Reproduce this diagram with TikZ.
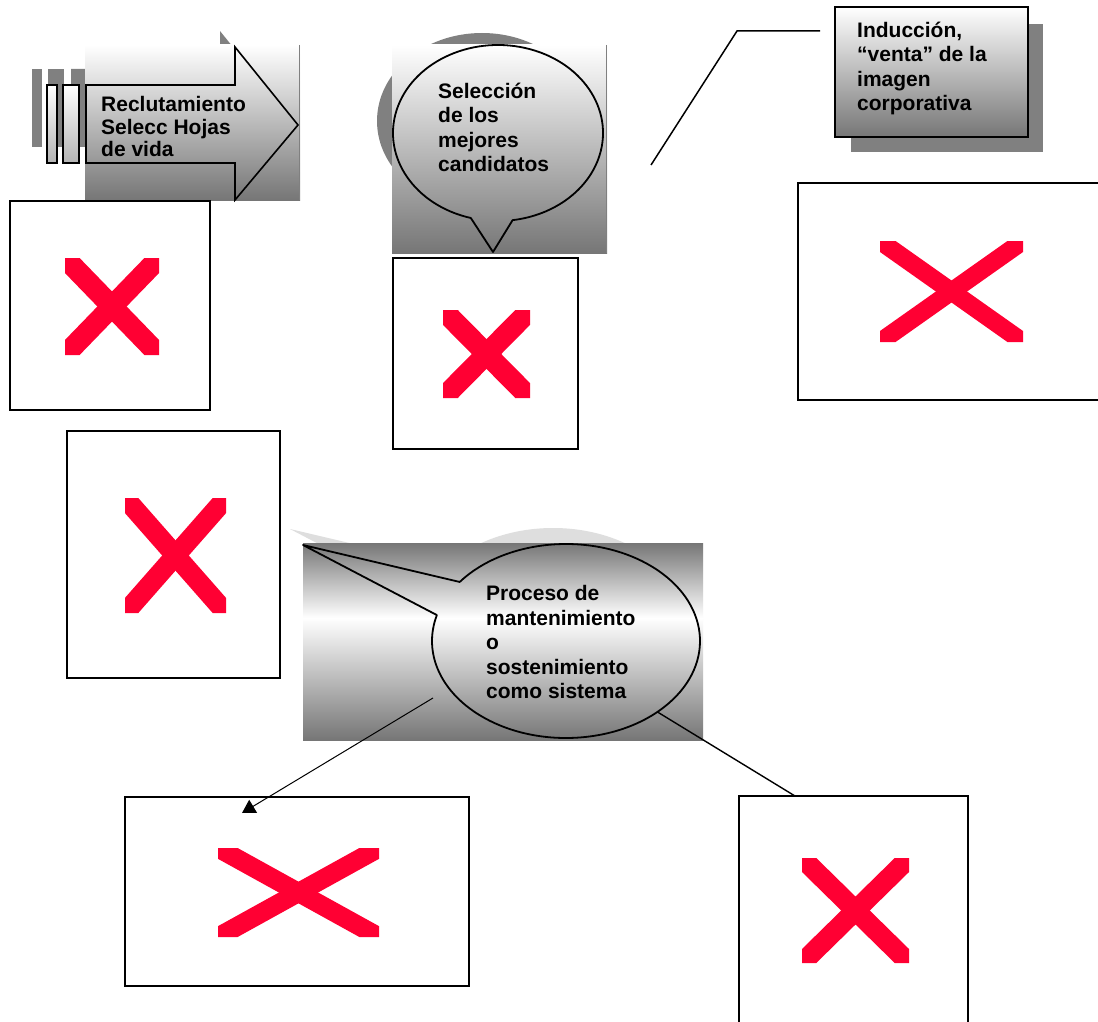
\documentclass[tikz,border=0pt]{standalone}
\usepackage{fontspec}
\setmainfont{Liberation Sans}
\usetikzlibrary{arrows.meta}
\definecolor{shgray}{RGB}{128,128,128}
\definecolor{grad}{RGB}{118,118,118}
\definecolor{lshadow}{RGB}{222,222,222}
\definecolor{xred}{RGB}{255,0,51}
\pgfdeclareverticalshading{tube}{100bp}{color(0bp)=(grad); color(25bp)=(grad); color(56bp)=(white); color(75bp)=(grad); color(100bp)=(grad)}
\newcommand\redx[5]{%
  \pgfmathsetmacro\rxdx{#3-#1}%
  \pgfmathsetmacro\rxdy{#4-#2}%
  \pgfmathsetmacro\rxl{veclen(\rxdx,\rxdy)}%
  \pgfmathsetmacro\rxw{#5*\rxl/\rxdy}%
  \pgfmathsetmacro\rxh{#5*\rxl/\rxdx}%
  \fill[xred] (#1,#2) -- ++(\rxw,0) -- (#3,#4-\rxh) -- (#3,#4) -- ++(-\rxw,0) -- (#1,#2+\rxh) -- cycle;
  \fill[xred] (#3,#2) -- ++(-\rxw,0) -- (#1,#4-\rxh) -- (#1,#4) -- ++(\rxw,0) -- (#3,#2+\rxh) -- cycle;
}
\begin{document}
\begin{tikzpicture}[x=1pt,y=-1pt,
  imgbox/.style={draw=black, fill=white, line width=1.2pt, inner sep=0pt, outer sep=0pt},
  bub/.style={draw=black, line width=1.8pt, line join=round},
  lbl/.style={anchor=north west, inner sep=0pt, align=left, font=\bfseries\fontsize{21}{24.5}\selectfont},
  conn/.style={draw=black, line width=1.4pt}]
\useasboundingbox (0,0) rectangle (1098,1022);
\fill[white] (0,0) rectangle (1098,1022);

% ---------- arrow group ----------
\begin{scope}[shift={(-15,-16)}]
  \fill[shgray] (47,85) rectangle (57,163);
  \fill[shgray] (63,85) rectangle (79,163);
  \fill[shgray] (86,85) -- (235,85) -- (235,47) -- (298,125) -- (235,200) -- (235,163) -- (86,163) -- cycle;
\end{scope}
\shade[top color=white, bottom color=grad] (85,45) rectangle (300,200);
\draw[gray, line width=1pt] (299,45) -- (299,200);
\shadedraw[top color=white, bottom color=white!45!grad, draw=black, line width=1.6pt] (47,85) rectangle (57,163);
\shadedraw[top color=white, bottom color=white!45!grad, draw=black, line width=1.6pt] (63,85) rectangle (79,163);
\draw[line width=1.6pt, line join=miter] (86,85) -- (235,85) -- (235,47) -- (298,125) -- (235,200) -- (235,163) -- (86,163) -- cycle;
\node[lbl, font=\bfseries\fontsize{21}{22.5}\selectfont] (t1) at (101,96) {\strut Reclutamiento\\Selecc Hojas\\de vida};

% ---------- box A ----------
\node[imgbox, minimum width=200pt, minimum height=209pt] (boxA) at (110,305.5) {};
\redx{65}{258}{159}{355}{10.5}

% ---------- top bubble ----------
\fill[shgray] (482,121) ellipse [x radius=105, y radius=88];
\shade[top color=white, bottom color=grad] (392,45) rectangle (607,253);
\draw[gray, line width=1pt] (606,45) -- (606,253);
\draw[bub] (498,133) ++(105:105 and 88) arc[start angle=105, end angle=442, x radius=105, y radius=88] -- (493,252) -- cycle;
\node[lbl] (t2) at (438,80.85) {\strut Selección\\de los\\mejores\\candidatos};

% ---------- box B ----------
\node[imgbox, minimum width=185pt, minimum height=191pt] (boxB) at (485.5,353.5) {};
\redx{443}{310}{530}{398}{10.5}

% ---------- induccion ----------
\fill[shgray] (851,24) rectangle (1043,152);
\shadedraw[top color=white, bottom color=grad, draw=black, line width=1.8pt] (835,7) rectangle (1028,137);
\node[lbl] (t3) at (857,20) {\strut Inducción,\\“venta” de la\\imagen\\corporativa};
\coordinate (ia) at (651,165);
\coordinate (ib) at (737,31);
\coordinate (ic) at (820,31);
\draw[conn, line width=1.5pt] (ia) -- (ib) -- (ic);

% ---------- box C ----------
\node[imgbox, line width=2pt, minimum width=302pt, minimum height=217pt] (boxC) at (949,291.5) {};
\redx{880}{241}{1023}{342}{9}

% ---------- box D ----------
\node[imgbox, minimum width=213pt, minimum height=247pt] (boxD) at (173.5,554.5) {};
\redx{125}{498}{226}{613}{10}

% ---------- bottom bubble ----------
\begin{scope}[shift={(-13,-16)}]
  \fill[lshadow] (566,641) ++(217.5:134 and 97) arc[start angle=217.5, end angle=555.5, x radius=134, y radius=97] -- (303,545) -- cycle;
\end{scope}
\shade[shading=tube] (303,543) rectangle (703,740);
\draw[bub] (566,641) ++(217.5:134 and 97) arc[start angle=217.5, end angle=555.5, x radius=134, y radius=97] -- (303,545) -- cycle;
\node[lbl] (t4) at (486,583.3) {\strut Proceso de\\mantenimiento\\o\\sostenimiento\\como sistema};

% ---------- boxes E, F ----------
\node[imgbox, line width=2pt, minimum width=344pt, minimum height=189pt] (boxE) at (297,891.5) {};
\redx{218}{848}{379}{937}{9.5}
\node[imgbox, minimum width=229pt, minimum height=234pt] (boxF) at (853.5,913) {};
\redx{802}{858}{909}{963}{10}

% ---------- connectors ----------
\coordinate (la) at (433,698);
\coordinate (lb) at (242,813);
\draw[draw=black, line width=1pt, -{Triangle[length=13pt, width=15pt]}] (la) -- (lb);
\path (566,641) ++(47:134 and 97) coordinate (rb);
\coordinate (rf) at (795,796);
\draw[conn] (rb) -- (rf);
\end{tikzpicture}
\end{document}
